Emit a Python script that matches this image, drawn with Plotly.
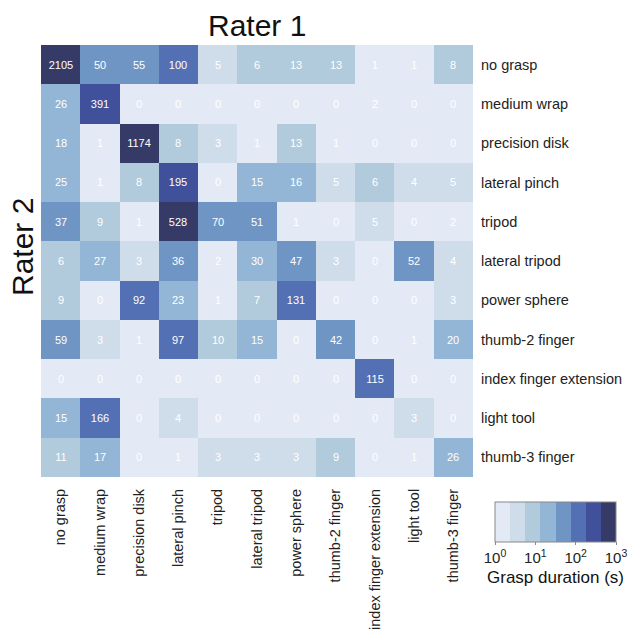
import numpy as np
import plotly.graph_objects as go

categories = ["no grasp", "medium wrap", "precision disk", "lateral pinch", "tripod",
              "lateral tripod", "power sphere", "thumb-2 finger", "index finger extension",
              "light tool", "thumb-3 finger"]

# rows: Rater 2, columns: Rater 1 (grasp duration in s)
row_no_grasp      = [2105, 50, 55, 100, 5, 6, 13, 13, 1, 1, 8]
row_medium_wrap   = [26, 391, 0, 0, 0, 0, 0, 0, 2, 0, 0]
row_precision     = [18, 1, 1174, 8, 3, 1, 13, 1, 0, 0, 0]
row_lat_pinch     = [25, 1, 8, 195, 0, 15, 16, 5, 6, 4, 5]
row_tripod        = [37, 9, 1, 528, 70, 51, 1, 0, 5, 0, 2]
row_lat_tripod    = [6, 27, 3, 36, 2, 30, 47, 3, 0, 52, 4]
row_power_sphere  = [9, 0, 92, 23, 1, 7, 131, 0, 0, 0, 3]
row_thumb2        = [59, 3, 1, 97, 10, 15, 0, 42, 0, 1, 20]
row_index_ext     = [0, 0, 0, 0, 0, 0, 0, 0, 115, 0, 0]
row_light_tool    = [15, 166, 0, 4, 0, 0, 0, 0, 0, 3, 0]
row_thumb3        = [11, 17, 0, 1, 3, 3, 3, 9, 0, 1, 26]

values = np.array([row_no_grasp, row_medium_wrap, row_precision, row_lat_pinch, row_tripod,
                   row_lat_tripod, row_power_sphere, row_thumb2, row_index_ext,
                   row_light_tool, row_thumb3], dtype=float)

bin_colors = ["#e3eaf6", "#cfdcea", "#b2cbdc", "#93b6d6",
              "#6f95c4", "#5470b5", "#41509a", "#363a66"]
n = len(bin_colors)
colorscale = []
for i, c in enumerate(bin_colors):
    colorscale.append([i / n, c])
    colorscale.append([(i + 1) / n, c])

z = np.log10(np.clip(values, 1, None))
text = [[str(int(v)) for v in row] for row in values]

fig = go.Figure(go.Heatmap(
    z=z, x=categories, y=categories,
    text=text, texttemplate="%{text}",
    textfont=dict(color="white", size=11, family="Liberation Sans"),
    colorscale=colorscale, zmin=0, zmax=3,
    hoverinfo="skip",
    colorbar=dict(
        orientation="h",
        x=(555.5 - 41) / 432, xanchor="center",
        y=(477 - 502) / 432, yanchor="top",
        lenmode="pixels", len=121, thickness=40,
        xpad=0, ypad=0,
        outlinewidth=1, outlinecolor="#888888",
        tickvals=[0, 1, 2, 3],
        ticktext=["10<sup>0</sup>", "10<sup>1</sup>", "10<sup>2</sup>", "10<sup>3</sup>"],
        ticks="outside", ticklen=3, tickcolor="#888888",
        tickfont=dict(size=15, color="#222222", family="Liberation Sans"),
        title=dict(text="Grasp duration (s)", side="bottom",
                   font=dict(size=17, color="#111111", family="Liberation Sans")),
    ),
))

fig.update_layout(
    width=638, height=633,
    margin=dict(l=41, r=165, t=45, b=156, autoexpand=False),
    paper_bgcolor="white", plot_bgcolor="white",
    font=dict(family="Liberation Sans", color="#222222"),
    xaxis=dict(side="bottom", tickangle=-90, showgrid=False, zeroline=False,
               showline=False, ticks="", ticklabelstandoff=8, automargin=False,
               tickfont=dict(size=14.5, color="#222222")),
    yaxis=dict(side="right", autorange="reversed", showgrid=False, zeroline=False,
               showline=False, ticks="", ticklabelstandoff=7, automargin=False,
               tickfont=dict(size=14.5, color="#222222")),
    annotations=[
        dict(text="Rater 1", x=(257 - 41) / 432, y=(477 - 25) / 432,
             xref="paper", yref="paper", xanchor="center", yanchor="middle",
             showarrow=False, font=dict(size=30, color="#111111")),
        dict(text="Rater 2", x=(22 - 41) / 432, y=(477 - 247) / 432,
             xref="paper", yref="paper", xanchor="center", yanchor="middle",
             showarrow=False, textangle=-90, font=dict(size=30, color="#111111")),
    ],
)

fig.write_html("out.html")
